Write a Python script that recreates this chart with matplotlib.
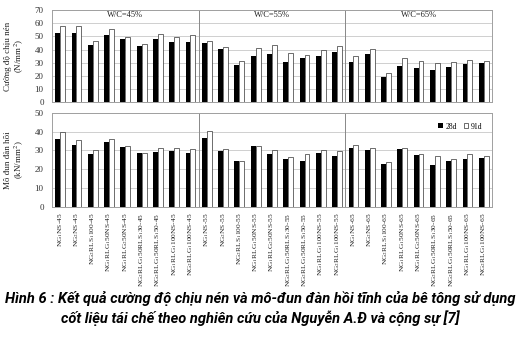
import matplotlib
matplotlib.use("Agg")
import matplotlib.pyplot as plt
import numpy as np

## Global look: Times-like serif for the chart text
plt.rcParams["font.family"] = ["Liberation Serif", "DejaVu Serif"]
plt.rcParams["mathtext.fontset"] = "stix"
plt.rcParams["font.size"] = 6

## Data
groups = ["W/C=45%", "W/C=55%", "W/C=65%"]
mixes = ["NG$_1$NS", "NG$_2$NS", "NG$_2$RLS$_1$100", "NG$_1$RLG$_1$50NS",
         "NG$_1$RLG$_2$50NS", "NG$_2$RLG$_1$50RLS$_1$30", "NG$_2$RLG$_1$50RLS$_1$50",
         "NG$_1$RLG$_1$100NS", "NG$_2$RLG$_1$100NS"]
wc = ["45", "55", "65"]
labels = [m + "-" + w for w in wc for m in mixes]

strength_28d = [52.7, 52.7, 43.8, 51.4, 48.3, 42.5, 47.8, 46.0, 45.5,
                45.3, 40.5, 28.5, 35.4, 36.9, 30.3, 33.6, 34.9, 37.9,
                30.3, 36.9, 19.3, 27.7, 26.0, 24.4, 27.0, 28.8, 29.5]
strength_91d = [58.3, 58.0, 46.6, 55.7, 49.6, 44.0, 51.7, 49.8, 51.0,
                46.8, 41.7, 31.6, 41.2, 43.3, 37.7, 36.1, 39.7, 42.7,
                34.9, 40.2, 22.4, 33.6, 31.6, 29.5, 30.8, 32.3, 31.6]
modulus_28d = [36.1, 32.9, 27.9, 34.6, 31.8, 28.6, 29.3, 29.5, 28.9,
               36.4, 29.6, 24.6, 32.5, 28.2, 25.7, 24.6, 28.6, 27.1,
               31.4, 30.2, 22.9, 30.7, 27.5, 22.1, 24.3, 25.7, 26.1]
modulus_91d = [40.0, 35.4, 30.2, 35.9, 32.5, 28.6, 31.4, 31.1, 30.9,
               40.2, 30.7, 24.5, 32.3, 30.0, 26.3, 28.0, 30.0, 29.6,
               33.0, 31.4, 23.8, 31.4, 28.2, 27.1, 25.7, 28.2, 27.1]

x = np.arange(len(labels))
w = 0.3

fig = plt.figure(figsize=(5.2, 3.38), dpi=100)
ax1 = fig.add_axes([0.1, 0.698, 0.846, 0.272])
ax2 = fig.add_axes([0.1, 0.388, 0.846, 0.278])

def draw_panel(ax, d28, d91, ymax, ylabel):
	ax.set_axisbelow(True)
	ax.yaxis.grid(True, color="#c8c8c8", linewidth=0.6)
	ax.bar(x - w / 2, d28, width=w, color="black", label="28d", zorder=2)
	ax.bar(x + w / 2, d91, width=w, color="white", edgecolor="#333333",
	       linewidth=0.5, label="91d", zorder=2)
	## group separators
	for b in [8.5, 17.5]:
		ax.axvline(b, color="#888888", linewidth=0.7, zorder=1)
	ax.set_xlim(-0.5, len(labels) - 0.5)
	ax.set_ylim(0, ymax)
	ax.set_yticks(np.arange(0, ymax + 1, 10))
	ax.tick_params(axis="y", length=0, labelsize=6.5, colors="#333333", pad=6)
	ax.tick_params(axis="x", length=0)
	for s in ax.spines.values():
		s.set_color("#a0a0a0")
		s.set_linewidth(0.7)
	ax.set_ylabel(ylabel, fontsize=6.5, color="#222222", labelpad=6,
	              linespacing=1.1)

draw_panel(ax1, strength_28d, strength_91d, 70,
           "Cường độ chịu nén\n(N/mm$^2$)")
draw_panel(ax2, modulus_28d, modulus_91d, 50,
           "Mô đun đàn hồi\n(kN/mm$^2$)")

ax1.set_xticks([])
for i, g in enumerate(groups):
	ax1.text(4 + 9 * i, 66, g, ha="center", va="center", fontsize=6, color="#222222")

ax2.set_xticks(x)
ax2.set_xticklabels(labels, rotation=90, fontsize=5.3, color="#222222")
ax2.tick_params(axis="x", pad=4)

ax2.legend(loc="upper right", bbox_to_anchor=(0.995, 0.97), ncol=2, frameon=False,
           fontsize=5.5, handlelength=0.6, handleheight=0.6, columnspacing=0.8,
           handletextpad=0.4)

## Caption, in a bold italic sans
cap_font = ["Roboto", "DejaVu Sans"]
fig.text(0.5, 0.118, "Hình 6 : Kết quả cường độ chịu nén và mô-đun đàn hồi tĩnh của bê tông sử dụng",
         ha="center", va="center", fontsize=10.5, fontweight="bold", style="italic",
         family=cap_font, color="black")
fig.text(0.5, 0.058, "cốt liệu tái chế theo nghiên cứu của Nguyễn A.Đ và cộng sự [7]",
         ha="center", va="center", fontsize=10.5, fontweight="bold", style="italic",
         family=cap_font, color="black")

fig.savefig("out.png", dpi=100)
